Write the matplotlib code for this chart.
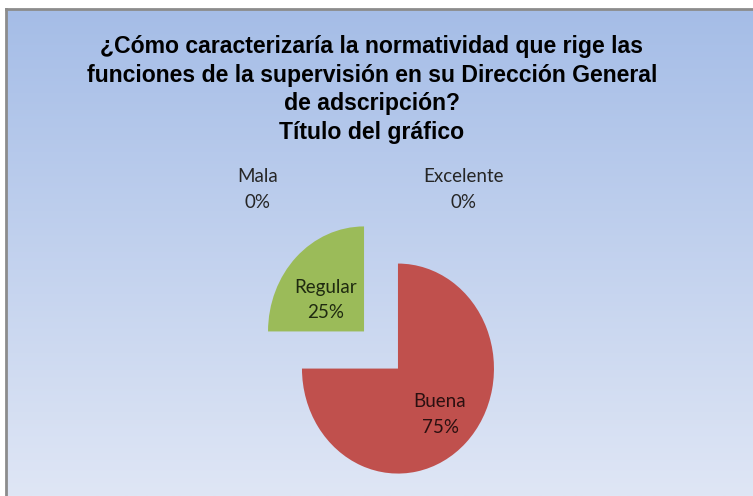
import matplotlib
matplotlib.use("Agg")
import matplotlib.pyplot as plt
import numpy as np
from matplotlib.colors import LinearSegmentedColormap

TITLE = ("¿Cómo caracterizaría la normatividad que rige las\n"
         "funciones de la supervisión en su Dirección General\n"
         "de adscripción?\n"
         "Título del gráfico")
CATEGORIES = ["Buena", "Regular", "Mala", "Excelente"]
VALUES = [75, 25, 0, 0]
COLORS = ["#C0504D", "#9BBB59", "#4F81BD", "#8064A2"]

W, H = 753, 496
fig = plt.figure(figsize=(W / 100, H / 100), dpi=100)
fig.patch.set_facecolor("white")

# gradient background of the chart area
bg = fig.add_axes([6 / W, 0, 1 - 6 / W, (H - 9) / H])
cmap = LinearSegmentedColormap.from_list("bg", ["#A5BDE7", "#DFE6F5"])
bg.imshow(np.linspace(0, 1, 256).reshape(-1, 1), aspect="auto", cmap=cmap,
          extent=[0, 1, 0, 1], origin="upper")
bg.set_xlim(0, 1)
bg.set_ylim(0, 1)
bg.set_xticks([])
bg.set_yticks([])
for side in ("right", "bottom"):
    bg.spines[side].set_visible(False)
for side in ("left", "top"):
    bg.spines[side].set_color("#8C8C8C")
    bg.spines[side].set_linewidth(2)

fig.text(372 / W, 1 - 35 / H, TITLE, ha="center", va="top",
         fontsize=16.6, fontweight="bold", family="Liberation Sans",
         linespacing=1.31, color="black")

# pie axes: 1 unit = 96 px across, 105 px down (stretched like the original)
cx, cy, rx, ry = 381, 350, 96, 105
ax = fig.add_axes([(cx - 1.5 * rx) / W, (H - cy - 1.5 * ry) / H,
                   3 * rx / W, 3 * ry / H])
wedges, _ = ax.pie(VALUES, colors=COLORS, startangle=90, counterclock=False,
                   explode=[0.25, 0.25, 0, 0], radius=1,
                   wedgeprops=dict(linewidth=0))
ax.set_aspect("auto")
ax.set_xlim(-1.5, 1.5)
ax.set_ylim(-1.5, 1.5)
ax.axis("off")

label_font = dict(family="Lato", fontsize=13.5, ha="center", va="center",
                  linespacing=1.62)
# (distance from wedge tip, angle tweak in degrees, colour)
inside = {"Buena": (0.62, 0, "#2a1010"), "Regular": (0.5, 8, "#1f2a10")}
for w, cat, val in zip(wedges, CATEGORIES, VALUES):
    txt = f"{cat}\n{val}%"
    if cat in inside:
        dist, tweak, col = inside[cat]
        ang = np.deg2rad((w.theta1 + w.theta2) / 2 + tweak)
        x0, y0 = w.center
        ax.text(x0 + dist * np.cos(ang), y0 + dist * np.sin(ang), txt,
                color=col, **label_font)
    else:
        dx = -1.29 if cat == "Mala" else 0.86
        ax.text(dx, 1.53, txt, color="#262626", **label_font)

fig.savefig("out.png", dpi=100)
